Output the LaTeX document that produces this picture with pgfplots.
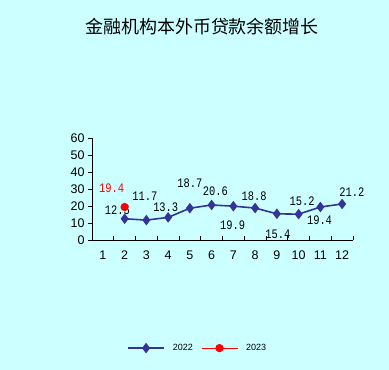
\documentclass[border=0pt]{standalone}
\usepackage{pgfplots}
\pgfplotsset{compat=1.18}
\usepackage{fontspec}
\setmainfont{Liberation Sans}
\newfontfamily\cjk{Noto Sans CJK SC}
\newfontfamily\mono{Liberation Mono}
\definecolor{bg}{HTML}{CCFFFF}
\definecolor{navy}{HTML}{333399}
\begin{document}
\begin{tikzpicture}[x=1pt,y=1pt]
\fill[bg] (0,0) rectangle (389,370);
\useasboundingbox (0,0) rectangle (389,370);
\node at (202,343) {\cjk\fontsize{18}{20}\selectfont 金融机构本外币贷款余额增长};
\begin{axis}[
  at={(92pt,130pt)}, anchor=south west,
  scale only axis, width=261pt, height=102pt,
  xmin=0.5, xmax=12.5, ymin=0, ymax=60,
  axis x line=bottom, axis y line=left,
  axis line style={-, black, line width=0.8pt},
  xtick={1,...,12}, xticklabels={1,2,3,4,5,6,7,8,9,10,11,12},
  ytick={0,10,...,60}, yticklabels={0,10,20,30,40,50,60},
  major x tick style={draw=none},
  minor xtick={1.5,2.5,...,12.5},
  minor x tick style={black, line width=0.8pt, yshift=4pt},
  minor tick length=4pt, major tick length=4pt,
  tick align=outside,
  y tick style={black, line width=0.8pt},
  tick label style={font=\fontsize{12.5}{14}\selectfont},
  xticklabel style={yshift=-3pt},
  clip=false,
  legend columns=2,
  legend style={at={(0.405,-1.06)}, anchor=center, draw=none, fill=none,
    font=\fontsize{9}{10}\selectfont, column sep=6pt},
  legend image code/.code={\draw[mark repeat=2,mark phase=2,#1] plot coordinates {(0pt,0pt) (18pt,0pt) (36pt,0pt)};},
]
\addplot[navy, line width=1.6pt, mark=diamond*, mark size=4pt, mark options={fill=navy}]
  coordinates {(2,12.5) (3,11.7) (4,13.3) (5,18.7) (6,20.6) (7,19.9) (8,18.8) (9,15.4) (10,15.2) (11,19.4) (12,21.2)};
\addlegendentry{2022}
\addplot[red, line width=1.2pt, mark=*, mark size=3.5pt, mark options={fill=red}]
  coordinates {(2,19.4)};
\addlegendentry{2023}
\begin{scope}[every node/.style={font=\mono\fontsize{13}{14}\selectfont, xscale=0.8}]
\node[red] at (axis cs:1.40,30.7) {19.4};
\node at (axis cs:1.67,17.3) {12.5};
\node at (axis cs:2.93,26.0) {11.7};
\node at (axis cs:3.89,19.5) {13.3};
\node at (axis cs:5.00,33.6) {18.7};
\node at (axis cs:6.17,28.5) {20.6};
\node at (axis cs:6.97,8.8) {19.9};
\node at (axis cs:7.95,26.0) {18.8};
\node at (axis cs:9.05,3.5) {15.4};
\node at (axis cs:10.16,23.0) {15.2};
\node at (axis cs:10.96,11.8) {19.4};
\node at (axis cs:12.45,28.3) {21.2};
\end{scope}
\end{axis}
\end{tikzpicture}
\end{document}
